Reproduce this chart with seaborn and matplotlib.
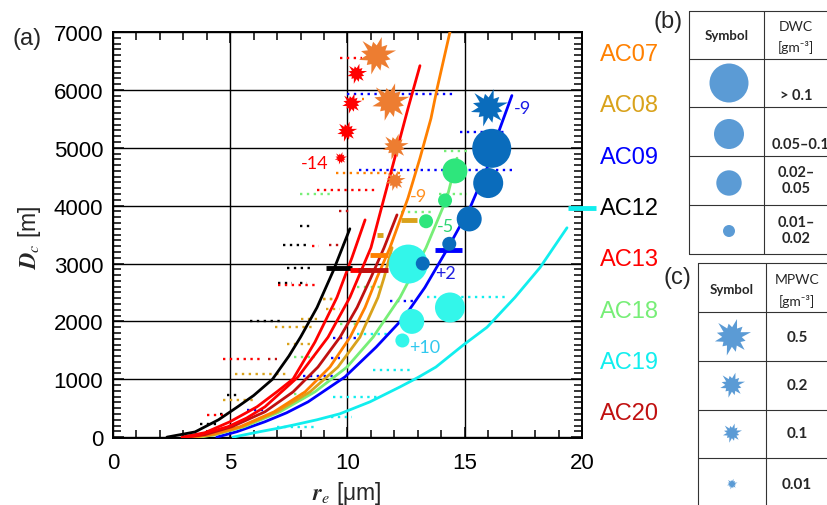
import numpy as np
import matplotlib
matplotlib.use("Agg")
import matplotlib.pyplot as plt
from matplotlib.path import Path
from matplotlib.ticker import MultipleLocator
import seaborn as sns

sns.set_style("ticks")
plt.rcParams["font.family"] = ["Liberation Sans", "DejaVu Sans"]
plt.rcParams["mathtext.fontset"] = "stix"

names = ["AC07", "AC08", "AC09", "AC12", "AC13", "AC18", "AC19", "AC20"]
colors = {"AC07": "#ff8000", "AC08": "#d9a21b", "AC09": "#0000ff", "AC12": "#000000",
          "AC13": "#ff0000", "AC18": "#77ee77", "AC19": "#11eeee", "AC20": "#c01010"}

# adiabatic-like profiles: r_e [um] vs D_c [m]
ac07_r = [3.28, 4.14, 5.42, 6.87, 8.19, 9.25, 10.11, 10.75, 11.26, 11.81, 12.58, 13.09, 13.56, 13.82, 14.37]
ac07_d = [0, 43, 180, 438, 782, 1211, 1727, 2242, 2758, 3273, 4132, 4820, 5507, 6022, 7002]
ac08_r = [3.5, 4.31, 5.5, 6.99, 8.4, 9.59, 10.53, 11.3, 11.56, 11.9]
ac08_d = [0, 43, 180, 438, 782, 1211, 1727, 2414, 2758, 3273]
ac09_r = [4.43, 5.29, 6.48, 7.4, 8.32, 9.89, 11.22, 12.41, 13.3, 14.29, 15.22, 15.95, 16.5, 17.01]
ac09_d = [0, 95, 266, 420, 610, 1040, 1555, 2070, 2586, 3273, 3960, 4648, 5335, 5902]
ac12_r = [2.3, 3.5, 4.5, 5.3, 6.0, 6.8, 7.5, 8.0, 8.7, 9.4, 10.1]
ac12_d = [0, 90, 300, 520, 720, 1000, 1400, 1730, 2240, 2880, 3600]
ac13_r = [3.07, 3.71, 4.9, 5.7, 6.48, 7.89, 9.17, 10.1, 11.0, 11.56, 12.07, 12.58, 13.09]
ac13_d = [0, 43, 180, 330, 524, 1040, 1727, 2414, 3273, 4132, 4905, 5679, 6418]
ac13b_r = [2.94, 3.92, 4.99, 6.14, 7.04, 7.68, 8.61, 9.55, 10.19, 10.75]
ac13b_d = [0, 77, 266, 524, 799, 1005, 1641, 2414, 3101, 3754]
ac18_r = [3.71, 4.35, 5.59, 7.12, 8.61, 9.98, 11.09, 12.24, 13.35, 14.24, 14.67]
ac18_d = [0, 43, 180, 438, 782, 1211, 1727, 2414, 3273, 4132, 4820]
ac19_r = [5.12, 6.27, 7.0, 7.76, 8.7, 9.68, 10.96, 12.24, 13.0, 13.77, 14.93, 15.95, 17.14, 18.21, 19.36]
ac19_d = [0, 95, 150, 215, 300, 404, 610, 868, 1030, 1211, 1589, 1899, 2414, 2930, 3617]
ac20_r = [3.16, 3.92, 5.07, 6.48, 7.68, 8.74, 9.68, 10.41, 11.0, 11.56, 12.11]
ac20_d = [0, 43, 180, 438, 782, 1211, 1727, 2242, 2758, 3273, 3840]

# in-cloud samples: rows of (D_c, r_e from, r_e to)
ac07_rows = [(5850, 10.6, 10.7), (4560, 9.5, 12.4), (2380, 8.96, 9.55)]
ac08_rows = [(2380, 8.97, 9.4), (2210, 9.1, 9.7), (2040, 8.0, 8.8), (1900, 6.9, 8.6),
             (1610, 7.4, 8.6), (1090, 5.2, 7.5), (640, 4.7, 6.1)]
ac09_rows = [(5930, 10.0, 14.5), (5280, 14.8, 16.8), (4610, 10.5, 17.1), (2360, 11.8, 12.8),
             (1720, 9.4, 10.4), (1370, 9.3, 9.7), (1060, 8.1, 9.4), (470, 5.7, 6.6)]
ac12_rows = [(3650, 7.97, 8.4), (3320, 7.25, 8.27), (2930, 7.42, 8.49), (2670, 7.04, 7.63),
             (2670, 7.97, 8.27), (2010, 5.84, 7.12), (730, 4.86, 5.42), (400, 4.56, 4.86), (232, 3.71, 4.56)]
ac13_rows = [(6550, 9.7, 10.6), (4270, 8.7, 11.3), (3300, 8.5, 8.8), (2620, 7.05, 8.8),
             (1350, 4.7, 6.3), (387, 4.0, 4.7)]
ac18_rows = [(4940, 14.1, 15.2), (4200, 7.97, 9.34), (4200, 13.9, 15.1), (3890, 12.3, 13.6),
             (2590, 10.4, 11.4), (1950, 9.7, 10.5), (1380, 7.7, 8.6), (750, 7.7, 8.3)]
ac19_rows = [(2414, 13.4, 16.8), (1780, 10.4, 11.7), (1160, 11.1, 12.8), (700, 9.4, 11.3),
             (350, 9.3, 10.2), (180, 7.0, 8.7)]
ac20_rows = [(3910, 9.65, 10.15), (3320, 9.2, 9.8), (1350, 6.6, 7.0)]

# cloud-top range bars: (D_c, r_e from, r_e to)
bars = [("AC12", 2930, 9.1, 10.2), ("AC13", 2880, 10.1, 10.96), ("AC20", 2880, 10.45, 11.73),
        ("AC07", 3150, 10.96, 11.73), ("AC08", 3750, 12.3, 12.96), ("AC08", 3500, 11.26, 11.5),
        ("AC09", 3240, 13.73, 14.88), ("AC19", 3960, 19.4, 20.6)]

# DWC circles (class 0: >0.1, 1: 0.05-0.1, 2: 0.02-0.05, 3: 0.01-0.02)
ac19_circ_r = [12.59, 14.37, 12.74, 12.34]
ac19_circ_d = [2990, 2240, 2000, 1670]
ac19_circ_c = [0, 1, 2, 3]
ac18_circ_r = [14.58, 14.16, 13.35]
ac18_circ_d = [4600, 4090, 3730]
ac18_circ_c = [2, 3, 3]
ac09_circ_r = [16.15, 16.0, 15.19, 14.34, 13.21]
ac09_circ_d = [4990, 4390, 3770, 3340, 3000]
ac09_circ_c = [0, 1, 2, 3, 3]

# MPWC bursts (class 0: 0.5, 1: 0.2, 2: 0.1, 3: 0.01)
ac13_star_r = [10.39, 10.18, 9.97, 9.71]
ac13_star_d = [6280, 5765, 5280, 4820]
ac13_star_c = [2, 2, 2, 3]
ac07_star_r = [11.24, 11.81, 12.03, 12.03]
ac07_star_d = [6595, 5795, 5020, 4430]
ac07_star_c = [0, 0, 1, 2]
ac09_star_r = [16.0]
ac09_star_d = [5710]
ac09_star_c = [0]

# temperature labels
note_txt = ["-14", "-9", "-5", "+2", "+10", "-9"]
note_r = [8.61, 13.02, 14.2, 14.2, 13.3, 17.47]
note_d = [4734, 4162, 3646, 2843, 1555, 5679]
note_col = ["#ff0000", "#ff9020", "#2ed573", "#2020e0", "#30c8ee", "#1a1ae6"]

dwc_labels = ["> 0.1", "0.05\u20130.1", "0.02\u2013\n0.05", "0.01\u2013\n0.02"]
mpwc_labels = ["0.5", "0.2", "0.1", "0.01"]

circ_px = [19.5, 15, 12.5, 7]
star_px = [19.5, 13.5, 10.5, 6.5]


def burst(outer, inner=0.5, turn=0.25):
    n = len(outer)
    ang = np.linspace(0, 2 * np.pi, 2 * n, endpoint=False) + turn
    rad = np.empty(2 * n)
    rad[0::2] = outer
    rad[1::2] = inner
    v = np.column_stack([rad * np.cos(ang), rad * np.sin(ang)])
    v = np.vstack([v, v[:1]])
    codes = [Path.MOVETO] + [Path.LINETO] * (2 * n - 1) + [Path.CLOSEPOLY]
    return Path(v, codes)


star = burst([1.0, 0.75, 0.95, 0.7, 1.0, 0.8, 0.9, 0.68, 0.98, 0.78, 0.92, 0.72])


def area(px):
    return (2 * px * 0.72) ** 2


fig = plt.figure(figsize=(8.28, 5.06), dpi=100)
ax = fig.add_axes([113 / 828, 1 - 439 / 506, 469 / 828, 406 / 506])

rows = {"AC07": ac07_rows, "AC08": ac08_rows, "AC09": ac09_rows, "AC12": ac12_rows,
        "AC13": ac13_rows, "AC18": ac18_rows, "AC19": ac19_rows, "AC20": ac20_rows}
for n, rr in rows.items():
    for d, r0, r1 in rr:
        ax.plot([r0, r1], [d, d], color=colors[n], lw=1.7, ls=(0, (1.0, 1.9)), zorder=2)

curves = [("AC19", ac19_r, ac19_d), ("AC09", ac09_r, ac09_d), ("AC18", ac18_r, ac18_d),
          ("AC08", ac08_r, ac08_d), ("AC07", ac07_r, ac07_d), ("AC20", ac20_r, ac20_d),
          ("AC13", ac13_r, ac13_d), ("AC13", ac13b_r, ac13b_d), ("AC12", ac12_r, ac12_d)]
for n, r, d in curves:
    sns.lineplot(x=r, y=d, ax=ax, color=colors[n], lw=2.0, sort=False, estimator=None, zorder=3)

for n, d, r0, r1 in bars:
    ax.plot([r0, r1], [d, d], color=colors[n], lw=3.5, solid_capstyle="butt", zorder=4, clip_on=False)

ax.scatter(ac19_circ_r, ac19_circ_d, s=[area(circ_px[c]) for c in ac19_circ_c], color="#33f6ea", lw=0, zorder=5)
ax.scatter(ac18_circ_r, ac18_circ_d, s=[area(circ_px[c]) for c in ac18_circ_c], color="#2ee67c", lw=0, zorder=5)
ax.scatter(ac09_circ_r, ac09_circ_d, s=[area(circ_px[c]) for c in ac09_circ_c], color="#0a6cbc", lw=0, zorder=6)
ax.scatter(ac13_star_r, ac13_star_d, s=[area(star_px[c]) for c in ac13_star_c], marker=star, color="#ff0000", lw=0, zorder=6)
ax.scatter(ac07_star_r, ac07_star_d, s=[area(star_px[c]) for c in ac07_star_c], marker=star, color="#ed7d31", lw=0, zorder=6)
ax.scatter(ac09_star_r, ac09_star_d, s=[area(star_px[c]) for c in ac09_star_c], marker=star, color="#0a6cbc", lw=0, zorder=6)

for t, r, d, c in zip(note_txt, note_r, note_d, note_col):
    ax.text(r, d, t, color=c, fontsize=13, ha="center", va="center", family=["Lato", "DejaVu Sans"], zorder=7)

ax.set_xlim(0, 20)
ax.set_ylim(-15, 7000)
ax.xaxis.set_major_locator(MultipleLocator(5))
ax.xaxis.set_minor_locator(MultipleLocator(1))
ax.yaxis.set_major_locator(MultipleLocator(1000))
ax.yaxis.set_minor_locator(MultipleLocator(100))
ax.tick_params(which="both", direction="in", bottom=True, top=True, left=True, right=True,
               color="black", labelcolor="black")
ax.tick_params(which="major", length=8, width=1.1, labelsize=16)
ax.tick_params(which="minor", length=6, width=1.1)
ax.tick_params(axis="x", which="major", pad=10)
ax.tick_params(axis="y", which="major", pad=7)
ax.grid(which="major", color="black", lw=1.0)
ax.set_axisbelow("line")

for s in ax.spines.values():
    s.set_visible(True)
    s.set_linewidth(1.4)
    s.set_color("black")
ax.set_xlabel("")
ax.set_ylabel("")

fig.text(30 / 828, 1 - 238 / 506, r"$\mathbfit{D}_{\mathit{c}}$ [m]", rotation=90,
         fontsize=16.5, ha="center", va="center")
fig.text(347 / 828, 1 - 494 / 506, "$\\mathbfit{r}_{\\mathit{e}}$ [\u03bcm]",
         fontsize=16.5, ha="center", va="center")

# side panels drawn in pixel space
lay = fig.add_axes([0, 0, 1, 1], zorder=10)
lay.set_xlim(0, 828)
lay.set_ylim(506, 0)
lay.axis("off")

for i, n in enumerate(names):
    lay.text(600, 55 + 51.3 * i, n, color=colors[n], fontsize=17, ha="left", va="center")

lay.text(27, 39, "(a)", fontsize=17, ha="center", va="center")
lay.text(668, 22, "(b)", fontsize=17, ha="center", va="center")
lay.text(677, 278, "(c)", fontsize=17, ha="center", va="center")

tf = ["Lato", "DejaVu Sans"]
tc = "#333333"
for y in [12, 60, 108, 157, 206, 255]:
    lay.plot([689, 840], [y, y], color=tc, lw=0.8)
for x in [689, 764]:
    lay.plot([x, x], [12, 255], color=tc, lw=0.8)
lay.text(727, 36, "Symbol", fontsize=9.5, fontweight="bold", family=tf, ha="center", va="center")
lay.text(796, 27, "DWC", fontsize=10, family=tf, ha="center", va="center")
lay.text(796, 47, "[gm\u207b\u00b3]", fontsize=10, family=tf, ha="center", va="center")
row_y = [84, 135, 184, 232]
lab_pos = [(796, 96, "center"), (772, 145, "left"), (796, 181, "center"), (796, 231, "center")]
for lab, (x, y, ha) in zip(dwc_labels, lab_pos):
    lay.text(x, y, lab, fontsize=10.5, fontweight="bold", family=tf, ha=ha, va="center", linespacing=1.25)
lay.scatter([729] * 4, row_y, s=[area(p) for p in [19.5, 15, 12.7, 6]], color="#5b9bd5", lw=0)

for y in [264, 313, 362, 411, 459]:
    lay.plot([698, 840], [y, y], color=tc, lw=0.8)
for x in [698, 766]:
    lay.plot([x, x], [264, 510], color=tc, lw=0.8)
lay.text(732, 290, "Symbol", fontsize=9.5, fontweight="bold", family=tf, ha="center", va="center")
lay.text(797, 280, "MPWC", fontsize=10, family=tf, ha="center", va="center")
lay.text(797, 302, "[gm\u207b\u00b3]", fontsize=10, family=tf, ha="center", va="center")
srow_y = [338, 386, 434, 485]
for lab, y in zip(mpwc_labels, srow_y):
    lay.text(797, y, lab, fontsize=11, fontweight="bold", family=tf, ha="center", va="center")
lay.scatter([732] * 4, srow_y, s=[area(p) for p in [19, 13, 10, 5.5]], marker=star, color="#5b9bd5", lw=0)

fig.savefig("out.png", dpi=100)
